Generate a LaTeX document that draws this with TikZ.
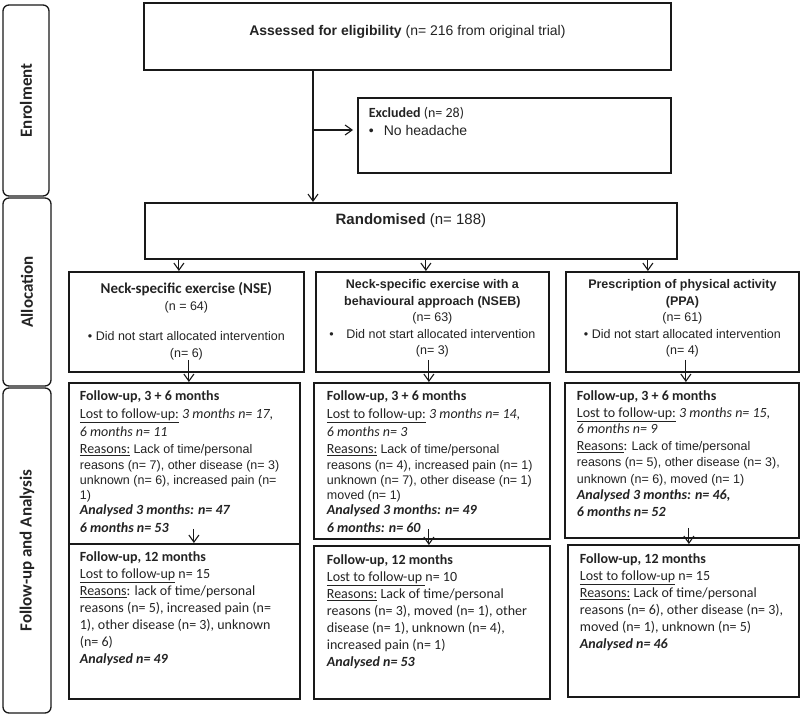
\documentclass[tikz,border=0pt]{standalone}
\usepackage{fontspec}
\setmainfont{Carlito}
\newfontfamily\arialfont{Liberation Sans}
\usepackage{tikz}
\usetikzlibrary{arrows.meta}
\definecolor{boxline}{RGB}{25,25,25}
\definecolor{boxtext}{RGB}{35,35,35}
\newcommand{\arl}[1]{{\arialfont\fontsize{12.5}{16}\selectfont #1}}
\newcommand{\inbox}[3]{\begin{minipage}[t][#2][t]{#1}\selectfont #3\end{minipage}}
\tikzset{
    box/.style={draw=boxline, line width=1.8pt, anchor=north west, inner xsep=12pt, inner ysep=8pt, text=boxtext, font=\fontsize{14}{16.5}\selectfont},
    side/.style={draw=boxline, line width=1.3pt, rounded corners=6pt, rotate=90, text=boxtext, font=\fontsize{17}{20}\selectfont\bfseries},
    flow/.style={draw=boxline, line width=1.1pt},
    >={Straight Barb[length=7pt, width=10pt]}
}
\begin{document}
\begin{tikzpicture}[x=1pt, y=-1pt]
    \useasboundingbox (0,0) rectangle (800,719);

    \node[side, minimum width=191pt, minimum height=46pt] (enrol) at (26,100.5) {Enrolment};
    \node[side, minimum width=188pt, minimum height=48pt] (alloc) at (27,292) {Allocation};
    \node[side, minimum width=325pt, minimum height=48pt] (follow) at (27,550.5) {Follow-up and Analysis};

    \node[box, inner xsep=0pt, inner ysep=22pt] (assess) at (143,2)
        {\inbox{527pt}{23pt}{\centering\arialfont\fontsize{14}{17}\selectfont\textbf{Assessed for eligibility} (n= 216 from original trial)}};
    \node[box, inner xsep=11pt, inner ysep=9pt] (excl) at (357,97)
        {\inbox{291pt}{57pt}{\fontsize{14}{18}\selectfont\textbf{Excluded} (n= 28)\\ {\arialfont\textbullet\hspace{10pt}No headache}}};
    \node[box, inner xsep=0pt, inner ysep=11pt] (rand) at (144,202)
        {\inbox{532pt}{34pt}{\centering\arialfont\fontsize{15}{18}\selectfont\textbf{Randomised} (n= 188)}};

    \node[box, inner xsep=4pt, inner ysep=10pt] (nse) at (68,271)
        {\inbox{227pt}{80pt}{\centering\fontsize{14}{17}\selectfont{\fontsize{15}{17}\selectfont\bfseries Neck-specific exercise (NSE)}\\
        \arl{(n = 64)}\\[13pt]
        \arl{\textbullet\ Did not start allocated intervention}\\
        \arl{(n= 6)}}};
    \node[box, inner xsep=4pt, inner ysep=8pt] (nseb) at (315,271)
        {\inbox{225pt}{84pt}{\centering\arl{\textbf{Neck-specific exercise with a}}\\
        \arl{\textbf{behavioural approach (NSEB)}}\\
        \arl{(n= 63)}\\
        \arl{\textbullet\quad Did not start allocated intervention}\\
        \arl{(n= 3)}}};
    \node[box, inner xsep=4pt, inner ysep=8pt] (ppa) at (565,271)
        {\inbox{225pt}{84pt}{\centering\arl{\textbf{Prescription of physical activity}}\\
        \arl{\textbf{(PPA)}}\\
        \arl{(n= 61)}\\
        \arl{\textbullet\ Did not start allocated intervention}\\
        \arl{(n= 4)}}};

    \node[box, inner xsep=11pt] (nsefu) at (68,382)
        {\inbox{209pt}{145pt}{\fontsize{14}{15}\selectfont\textbf{Follow-up, 3 + 6 months}\\[3pt]
        \underline{Lost to follow-up:} \textit{3 months n= 17,}\\[3pt]
        \textit{6 months n= 11}\\[1.5pt]
        \underline{Reasons:} \arl{Lack of time/personal}\\[1.5pt]
        \arl{reasons (n= 7), other disease (n= 3)}\\
        \arl{unknown (n= 6), increased pain (n=}\\
        \arl{1)}\\
        \textbf{\textit{Analysed 3 months: n= 47}}\\[3pt]
        \textbf{\textit{6 months n= 53}}}};
    \node[box, inner xsep=13pt] (nsebfu) at (313,382)
        {\inbox{210pt}{140pt}{\fontsize{14}{15}\selectfont\textbf{Follow-up, 3 + 6 months}\\[3pt]
        \underline{Lost to follow-up:} \textit{3 months n= 14,}\\[3pt]
        \textit{6 months n= 3}\\[1.5pt]
        \underline{Reasons:} \arl{Lack of time/personal}\\[1.5pt]
        \arl{reasons (n= 4), increased pain (n= 1)}\\
        \arl{unknown (n= 7), other disease (n= 1)}\\
        \arl{moved (n= 1)}\\
        \textbf{\textit{Analysed 3 months: n= 49}}\\[3pt]
        \textbf{\textit{6 months: n= 60}}}};
    \node[box] (ppafu) at (564,382)
        {\inbox{210pt}{139pt}{\textbf{Follow-up, 3 + 6 months}\\
        \underline{Lost to follow-up:} \textit{3 months n= 15,}\\
        \textit{6 months n= 9}\\
        \underline{Reasons}: \arl{Lack of time/personal}\\
        \arl{reasons (n= 5), other disease (n= 3),}\\
        \arl{unknown (n= 6), moved (n= 1)}\\
        \textbf{\textit{Analysed 3 months: n= 46,}}\\
        \textbf{\textit{6 months n= 52}}}};

    \node[box, inner xsep=11pt] (nsefu12) at (68,543)
        {\inbox{209pt}{139pt}{\fontsize{14}{17}\selectfont\textbf{Follow-up, 12 months}\\
        \underline{Lost to follow-up} n= 15\\
        \underline{Reasons}: lack of time/personal\\
        reasons (n= 5), increased pain (n=\\
        1), other disease (n= 3), unknown\\
        (n= 6)\\
        \textbf{\textit{Analysed n= 49}}}};
    \node[box, inner xsep=13pt, inner ysep=9pt] (nsebfu12) at (313,545)
        {\inbox{210pt}{135pt}{\fontsize{14}{17}\selectfont\textbf{Follow-up, 12 months}\\
        \underline{Lost to follow-up }n= 10\\
        \underline{Reasons:} Lack of time/personal\\
        reasons (n= 3), moved (n= 1), other\\
        disease (n= 1), unknown (n= 4),\\
        increased pain (n= 1)\\
        \textbf{\textit{Analysed n= 53}}}};
    \node[box, inner ysep=9pt] (ppafu12) at (567,544)
        {\inbox{207pt}{134pt}{\fontsize{14}{17}\selectfont\textbf{Follow-up, 12 months}\\
        \underline{Lost to follow-up} n= 15\\
        \underline{Reasons:} Lack of time/personal\\
        reasons (n= 6), other disease (n= 3),\\
        moved (n= 1), unknown (n= 5)\\
        \textbf{\textit{Analysed n= 46}}}};

    \coordinate (split) at (313,130);
    \draw[->, flow] (split |- assess.south) -- (split |- rand.north);
    \draw[->, flow, shorten >=4pt] (split) -- (split -| excl.west);

    \coordinate (nsetop) at ([xshift=-7.5pt]nse.north);
    \coordinate (nsebtop) at ([xshift=-6.5pt]nseb.north);
    \coordinate (ppatop) at ([xshift=-34.5pt]ppa.north);
    \draw[->, flow] (rand.south -| nsetop) -- (nsetop);
    \draw[->, flow] (rand.south -| nsebtop) -- (nsebtop);
    \draw[->, flow] (rand.south -| ppatop) -- (ppatop);

    \coordinate (nsebot) at ([xshift=2.5pt, yshift=13pt]nse.south);
    \coordinate (nsebbot) at ([xshift=-3.5pt, yshift=13pt]nseb.south);
    \coordinate (ppabot) at ([xshift=3.5pt, yshift=13pt]ppa.south);
    \draw[->, flow] (nsebot) -- (nsebot |- nsefu.north);
    \draw[->, flow] (nsebbot) -- (nsebbot |- nsebfu.north);
    \draw[->, flow] (ppabot) -- (ppabot |- ppafu.north);

    \coordinate (nsefubot) at ([xshift=9.5pt, yshift=16pt]nsefu.south);
    \coordinate (nsebfubot) at ([xshift=-3pt, yshift=11pt]nsebfu.south);
    \coordinate (ppafubot) at ([xshift=7pt, yshift=11pt]ppafu.south);
    \draw[->, flow] (nsefubot) -- (nsefubot |- nsefu12.north);
    \draw[->, flow] (nsebfubot) -- (nsebfubot |- nsebfu12.north);
    \draw[->, flow] (ppafubot) -- (ppafubot |- ppafu12.north);
\end{tikzpicture}
\end{document}
